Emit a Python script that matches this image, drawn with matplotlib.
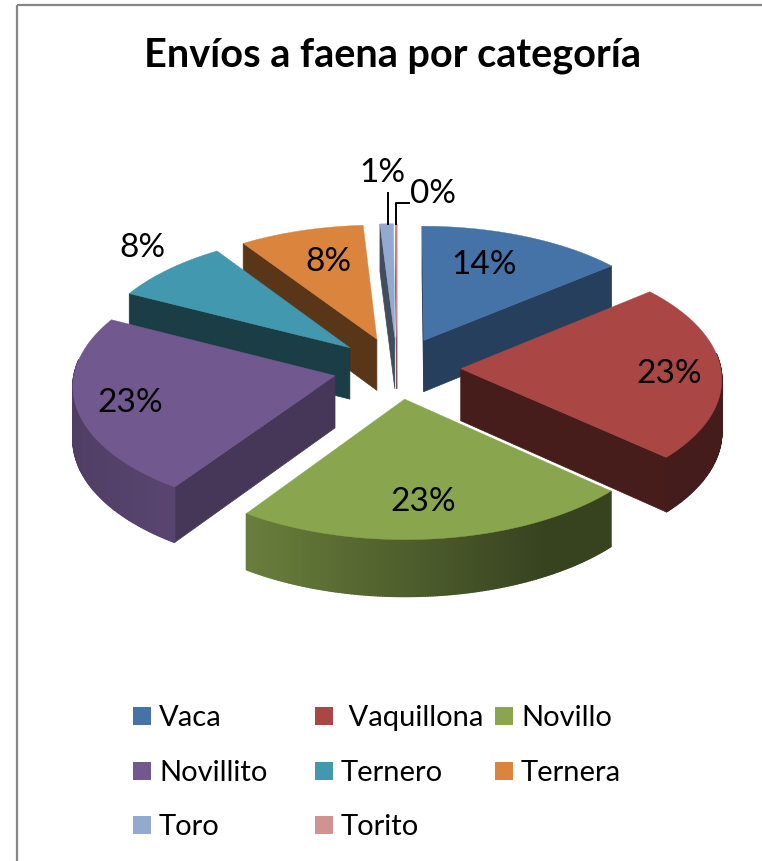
import numpy as np
import matplotlib
matplotlib.use("Agg")
import matplotlib.pyplot as plt
from matplotlib.colors import to_rgb
from matplotlib.patches import Rectangle

categories = ["Vaca", "Vaquillona", "Novillo", "Novillito", "Ternero", "Ternera", "Toro", "Torito"]
legend_labels = ["Vaca", " Vaquillona", "Novillo", "Novillito", "Ternero", "Ternera", "Toro", "Torito"]
values = [14.0, 22.7, 22.85, 22.95, 8.1, 8.4, 0.9, 0.1]
display = [14, 23, 23, 23, 8, 8, 1, 0]
top_colors = ["#4572a7", "#aa4643", "#89a54e", "#71588f", "#4198af", "#db843d", "#93a9cf", "#d19392"]
face_shade = [0.55, 0.41, 0.41, 0.62, 0.40, 0.41, 0.45, 0.6]
title = "Envíos a faena por categoría"

label_pos = [(484, 265), (669, 374), (423, 502), (130, 403), (142, 248), (328, 262), (382, 173), (433, 194)]
legend_pos = [(133, 717), (315, 717), (495, 717), (133, 772), (315, 772), (495, 772), (133, 826), (315, 826)]

# projection of the pie
CX, CY, RX, RY, K, DEPTH, EXPL = 397, 369, 260, 126, 0.07, 52, 0.245
FONT = "Lato"

fig = plt.figure(figsize=(7.62, 8.62), dpi=100)
ax = fig.add_axes([0, 0, 1, 1])
ax.set_xlim(0, 762)
ax.set_ylim(862, 0)
ax.axis("off")


def project(a, b, z=0.0):
    s = 1.0 / (1.0 + K * b)
    return CX + RX * a * s, CY - RY * b * s + DEPTH * z * s


def shade(color, f):
    return tuple(c * f for c in to_rgb(color))


def wall_factor(u):
    return np.interp(u, [-1, -0.6, 0.5, 1], [0.70, 0.78, 0.40, 0.40])


fracs = np.array(values) / sum(values) * 2 * np.pi
ends = np.cumsum(fracs)
starts = ends - fracs
mids = (starts + ends) / 2
order = np.argsort(-np.cos(mids))

rims = {}
for i in order:
    th = np.linspace(starts[i], ends[i], max(int(fracs[i] * 120), 4))
    oa, ob = EXPL * np.sin(mids[i]), EXPL * np.cos(mids[i])
    ra, rb = oa + np.sin(th), ob + np.cos(th)
    rims[i] = (ra, rb, th)
    xs, ys = project(ra, rb)
    ax_, ay_ = project(oa, ob)
    px = np.r_[ax_, xs]
    py = np.r_[ay_, ys]
    cenx, ceny = px.mean(), py.mean()
    col = top_colors[i]
    z0 = 2 * list(order).index(i) + 2

    # flat cut faces, only those turned towards the viewer
    for ea, eb in ((ra[0], rb[0]), (ra[-1], rb[-1])):
        ex, ey = project(ea, eb)
        dx, dy = ex - ax_, ey - ay_
        if (dx * 1 - dy * 0) * (dx * (ceny - ay_) - dy * (cenx - ax_)) < 0:
            bx, by = project(ea, eb, 1)
            b0x, b0y = project(oa, ob, 1)
            fc = shade(col, face_shade[i])
            ax.fill([ax_, ex, bx, b0x], [ay_, ey, by, b0y], color=fc, lw=0.5, zorder=z0)

    # outer curved wall
    for j in range(len(th) - 1):
        if np.cos(th[j]) < 0.12 or np.cos(th[j + 1]) < 0.12:
            x0, y0 = project(ra[j], rb[j])
            x1, y1 = project(ra[j + 1], rb[j + 1])
            x2, y2 = project(ra[j + 1], rb[j + 1], 1)
            x3, y3 = project(ra[j], rb[j], 1)
            fc = shade(col, wall_factor(np.sin((th[j] + th[j + 1]) / 2)))
            ax.fill([x0, x1, x2, x3], [y0, y1, y2, y3], color=fc, lw=1.0, zorder=z0)

    ax.fill(px, py, color=col, lw=0.3, zorder=z0 + 1)

# data labels
for v, (lx, ly) in zip(display, label_pos):
    ax.text(lx, ly, f"{v}%", fontsize=24, family=FONT, ha="center", va="center", color="black", zorder=50)

# leader lines for the two thin slices
for i, tail in ((6, [(0, -31)]), (7, [(0, -21), (13, -21)])):
    ra, rb, _ = rims[i]
    x0, y0 = project(ra[len(ra) // 2], rb[len(rb) // 2])
    ax.plot([x0] + [x0 + t[0] for t in tail], [y0] + [y0 + t[1] for t in tail], color="black", lw=1.4, zorder=50)

# title
ax.text(393, 56, title, fontsize=28.5, fontweight="bold", family=FONT, ha="center", va="center", color="black")

# legend
for name, col, (lx, ly) in zip(legend_labels, top_colors, legend_pos):
    ax.add_patch(Rectangle((lx, ly - 9), 18, 18, color=col, lw=0))
    ax.text(lx + 26, ly + 1, name, fontsize=21, family=FONT, ha="left", va="center", color="black")

# chart frame
ax.plot([17, 17], [862, 6], color="#868686", lw=1.6, clip_on=False, solid_capstyle="butt")
ax.plot([17, 762], [6, 6], color="#868686", lw=1.6, clip_on=False, solid_capstyle="butt")

fig.savefig("out.png", dpi=100)
